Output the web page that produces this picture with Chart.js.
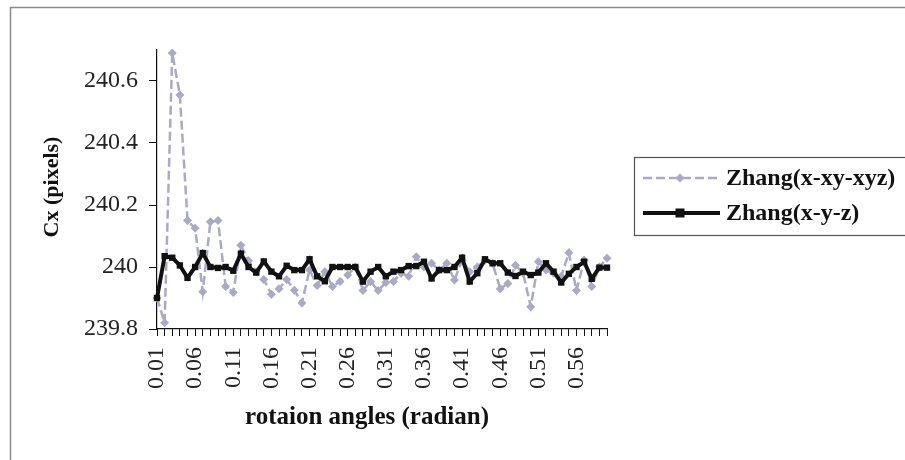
<!DOCTYPE html>
<html>
<head>
<meta charset="utf-8">
<script src="https://cdn.jsdelivr.net/npm/chart.js@4/dist/chart.umd.min.js"></script>
<style>
  html, body { margin: 0; padding: 0; background: #ffffff; }
  #wrap { position: relative; width: 905px; height: 460px; }
  canvas { display: block; }
</style>
</head>
<body>
<div id="wrap"><canvas id="c" width="905" height="460"></canvas></div>
<script>
// Rotation angles (radian), 0.01 .. 0.60
const angles = ['0.01','0.02','0.03','0.04','0.05','0.06','0.07','0.08','0.09','0.10',
  '0.11','0.12','0.13','0.14','0.15','0.16','0.17','0.18','0.19','0.20',
  '0.21','0.22','0.23','0.24','0.25','0.26','0.27','0.28','0.29','0.30',
  '0.31','0.32','0.33','0.34','0.35','0.36','0.37','0.38','0.39','0.40',
  '0.41','0.42','0.43','0.44','0.45','0.46','0.47','0.48','0.49','0.50',
  '0.51','0.52','0.53','0.54','0.55','0.56','0.57','0.58','0.59','0.60'];

// Cx estimate, Zhang(x-xy-xyz)
const zhangXXyXyz = [239.90, 239.82, 240.69, 240.555, 240.15, 240.125, 239.92, 240.146, 240.15, 239.937,
  239.918, 240.07, 240.02, 239.985, 239.96, 239.912, 239.93, 239.96, 239.925, 239.884,
  239.99, 239.94, 239.985, 239.937, 239.953, 239.974, 240.0, 239.924, 239.953, 239.924,
  239.95, 239.953, 239.98, 239.97, 240.033, 240.0, 240.012, 239.99, 240.012, 239.958,
  240.022, 239.985, 240.0, 240.022, 240.012, 239.93, 239.947, 240.006, 239.98, 239.872,
  240.017, 239.99, 239.98, 239.97, 240.046, 239.924, 240.022, 239.937, 240.0, 240.028];

// Cx estimate, Zhang(x-y-z)
const zhangXYZ = [239.90, 240.035, 240.03, 240.005, 239.965, 240.0, 240.045, 240.0, 239.997, 240.0,
  239.988, 240.043, 240.0, 239.982, 240.018, 239.985, 239.97, 240.004, 239.99, 239.99,
  240.025, 239.97, 239.954, 240.0, 240.0, 240.0, 240.0, 239.953, 239.985, 240.0,
  239.97, 239.985, 239.99, 240.003, 240.003, 240.017, 239.963, 239.99, 239.99, 240.0,
  240.03, 239.953, 239.98, 240.025, 240.012, 240.012, 239.982, 239.971, 239.985, 239.974,
  239.982, 240.012, 239.985, 239.95, 239.978, 240.0, 240.017, 239.962, 239.998, 239.998];

const seriesNames = ['Zhang(x-xy-xyz)', 'Zhang(x-y-z)'];
const yTicks = [239.8, 240.0, 240.2, 240.4, 240.6];
const yTitle = 'Cx (pixels)';
const xTitle = 'rotaion angles (radian)';

const SERIF = '"Liberation Serif", "Times New Roman", serif';
const GREY = '#aaaac2';

// Frame, axis titles and legend box drawn on the canvas
const decorations = {
  id: 'decorations',
  beforeDraw(chart) {
    const ctx = chart.ctx;
    ctx.save();
    ctx.strokeStyle = '#8a8a8a';
    ctx.lineWidth = 1.5;
    ctx.beginPath();
    ctx.moveTo(10.5, 460);
    ctx.lineTo(10.5, 7.5);
    ctx.lineTo(905, 7.5);
    ctx.stroke();
    ctx.restore();
  },
  afterDraw(chart) {
    const ctx = chart.ctx;
    ctx.save();
    ctx.fillStyle = '#111';
    ctx.textAlign = 'center';
    ctx.textBaseline = 'middle';
    // y title
    ctx.font = 'bold 22px ' + SERIF;
    ctx.save();
    ctx.translate(52, 187);
    ctx.rotate(-Math.PI / 2);
    ctx.fillText(yTitle, 0, 0);
    ctx.restore();
    // x title
    ctx.font = 'bold 25px ' + SERIF;
    ctx.fillText(xTitle, 367, 418);

    // legend
    ctx.font = 'bold 24px ' + SERIF;
    const ds = chart.data.datasets;
    ctx.strokeStyle = '#555';
    ctx.lineWidth = 1.2;
    ctx.strokeRect(634.5, 157.5, 290, 78);
    const rows = [178, 213];
    rows.forEach((y, k) => {
      const d = ds[k];
      ctx.save();
      ctx.strokeStyle = d.borderColor;
      ctx.lineWidth = d.borderWidth;
      ctx.setLineDash(d.borderDash || []);
      ctx.beginPath();
      ctx.moveTo(643, y);
      ctx.lineTo(720, y);
      ctx.stroke();
      ctx.setLineDash([]);
      ctx.fillStyle = d.pointBackgroundColor;
      const r = d.pointRadius;
      if (d.pointStyle === 'rectRot') {
        ctx.beginPath();
        ctx.moveTo(680, y - r); ctx.lineTo(680 + r, y); ctx.lineTo(680, y + r); ctx.lineTo(680 - r, y);
        ctx.closePath();
        ctx.fill();
      } else {
        ctx.fillRect(680 - r, y - r, 2 * r, 2 * r);
      }
      ctx.restore();
      ctx.fillStyle = '#111';
      ctx.textAlign = 'left';
      ctx.fillText(d.label, 726, y + 1);
    });
    ctx.restore();
  }
};

new Chart(document.getElementById('c'), {
  type: 'line',
  data: {
    labels: angles,
    datasets: [
      {
        label: seriesNames[0],
        data: zhangXXyXyz,
        borderColor: GREY,
        backgroundColor: GREY,
        borderWidth: 2.5,
        borderDash: [9, 4],
        pointStyle: 'rectRot',
        pointRadius: 4.5,
        pointBackgroundColor: GREY,
        pointBorderColor: GREY,
        pointBorderWidth: 0,
        tension: 0,
        order: 2,
        clip: false
      },
      {
        label: seriesNames[1],
        data: zhangXYZ,
        borderColor: '#111111',
        backgroundColor: '#111111',
        borderWidth: 4,
        pointStyle: 'rect',
        pointRadius: 4.5,
        pointBackgroundColor: '#111111',
        pointBorderColor: '#111111',
        pointBorderWidth: 0,
        tension: 0,
        order: 1,
        clip: false
      }
    ]
  },
  options: {
    responsive: false,
    animation: false,
    events: [],
    layout: { padding: { left: 0, top: 50, right: 298, bottom: 0 } },
    plugins: {
      legend: { display: false },
      tooltip: { enabled: false },
      title: { display: false }
    },
    scales: {
      x: {
        type: 'category',
        offset: false,
        afterFit(scale) { scale.height = 131; },
        grid: {
          display: true,
          drawOnChartArea: false,
          drawTicks: true,
          tickLength: 7,
          tickColor: '#111',
          tickWidth: 1,
          offset: false
        },
        border: { display: true, color: '#111', width: 1.2 },
        ticks: {
          autoSkip: false,
          minRotation: 90,
          maxRotation: 90,
          padding: 11,
          color: '#222',
          font: { family: SERIF, size: 24 },
          callback(value, index) { return index % 5 === 0 ? angles[index] : ''; }
        }
      },
      y: {
        min: 239.8,
        max: 240.7,
        afterFit(scale) { scale.width = 157; },
        afterBuildTicks(scale) { scale.ticks = yTicks.map(v => ({ value: v })); },
        grid: {
          display: true,
          drawOnChartArea: false,
          drawTicks: true,
          tickLength: 8,
          tickColor: '#111',
          tickWidth: 1
        },
        border: { display: true, color: '#111', width: 1.2 },
        ticks: {
          padding: 11,
          color: '#222',
          font: { family: SERIF, size: 24 },
          callback(value) { return String(Math.round(value * 10) / 10); }
        }
      }
    }
  },
  plugins: [decorations]
});
</script>
</body>
</html>
